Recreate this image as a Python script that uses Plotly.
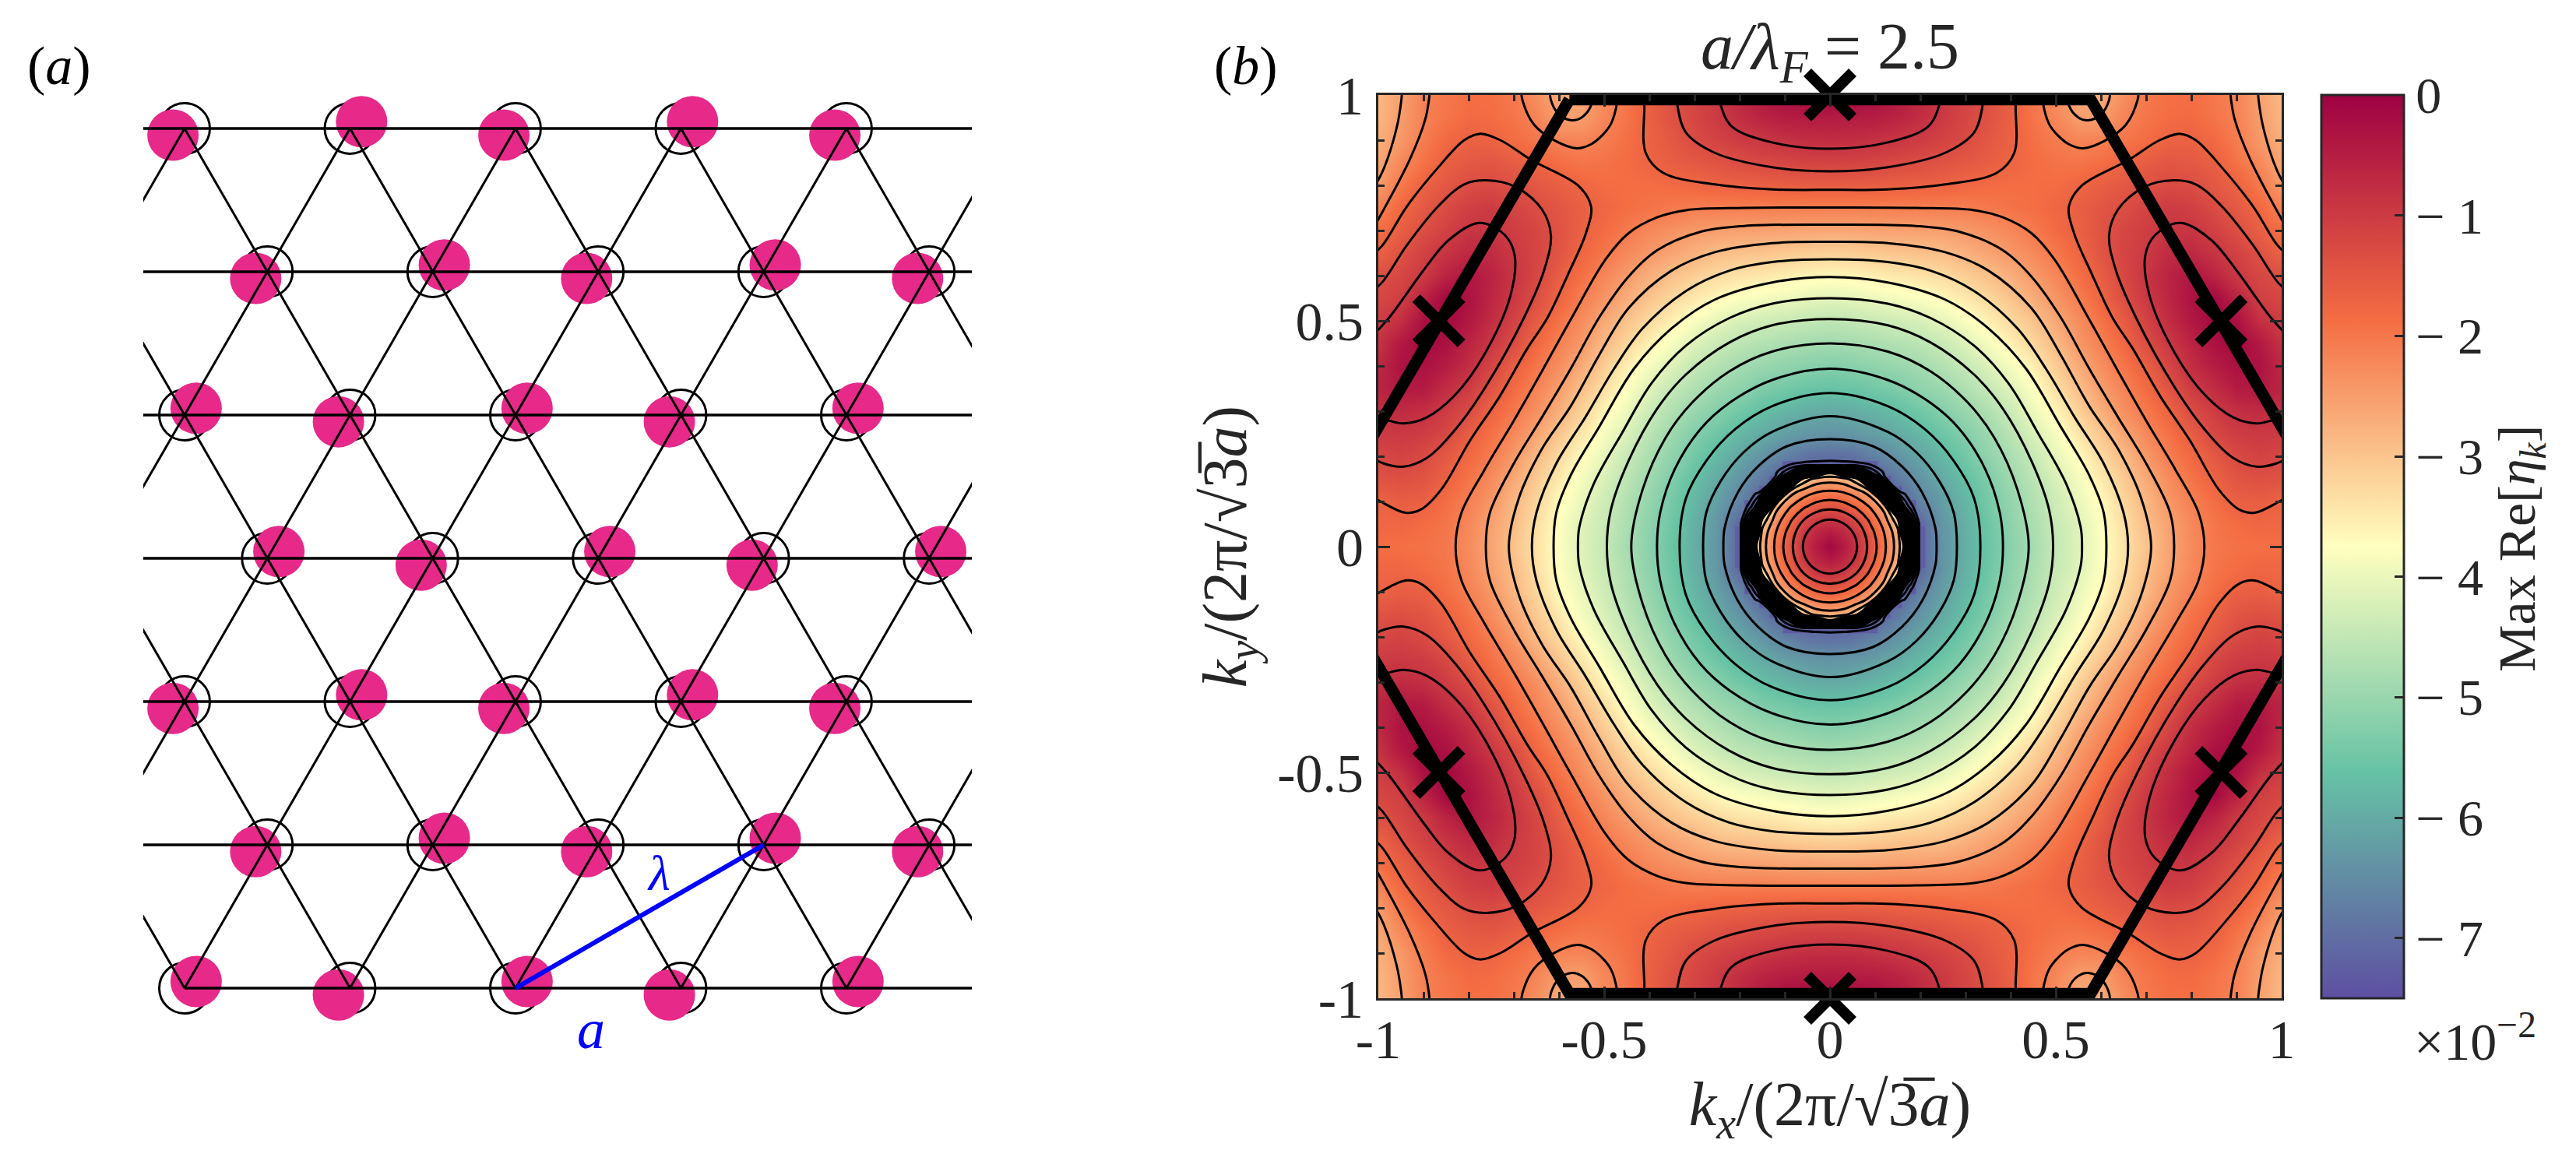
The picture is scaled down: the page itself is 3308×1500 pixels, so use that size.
import numpy as np
import plotly.graph_objects as go

W, H = 3308, 1500
INK = '#262626'
SERIF = 'Liberation Serif'

# panel (a): lattice rows, sites in units of a, dot shift direction per site
row_index = [0, 1, 2, 3, 4, 5, 6]
row_offset = [0, 0.5, 0, 0.5, 0, 0.5, 0]
row_start = [-1, -1, -1, -1, -1, -1, 0]
site_columns = [0, 1, 2, 3, 4]
dot_shift = [
    [-1, 1, -1, 1, -1],
    [-1, 1, -1, 1, -1],
    [1, -1, 1, -1, 1],
    [1, -1, 1, -1, 1],
    [-1, 1, -1, 1, -1],
    [-1, 1, -1, 1, -1],
    [1, -1, 1, -1, 1],
]
diagonal_starts = [-3, -2, -1, 0, 1, 2, 3, 4]
lambda_x = [2, 3.5]
lambda_row = [6, 5]

# panel (b): one quadrant of Max Re[eta_k] (x100)
k_nodes = [0, .05, .1, .15, .2, .25, .3, .35, .4, .45, .5, .55, .6, .65, .7, .75, .8, .85, .9, .95, 1]
quadrant_z = [
    [-7.3, -7.3, -7.3, -7.3, -7.1, -6.35, -5.95, -5.57, -5.18, -4.83, -4.46, -4.15, -3.79, -3.38, -2.99, -2.59, -2.27, -2.0, -1.93, -1.9, -1.88],
    [-7.3, -7.3, -7.3, -7.3, -7.1, -6.33, -5.92, -5.52, -5.14, -4.77, -4.42, -4.14, -3.76, -3.33, -2.9, -2.55, -2.22, -1.98, -1.85, -1.75, -1.77],
    [-7.3, -7.3, -7.3, -7.3, -6.65, -6.2, -5.82, -5.43, -5.06, -4.7, -4.35, -4.0, -3.68, -3.22, -2.83, -2.41, -2.12, -1.87, -1.64, -1.6, -1.7],
    [-7.3, -7.3, -7.3, -6.8, -6.36, -6.02, -5.67, -5.32, -4.93, -4.58, -4.22, -3.88, -3.48, -3.07, -2.64, -2.27, -1.96, -1.68, -1.45, -1.36, -1.42],
    [-7.0, -6.95, -6.7, -6.38, -6.09, -5.79, -5.47, -5.12, -4.77, -4.43, -4.03, -3.7, -3.27, -2.87, -2.43, -2.08, -1.8, -1.52, -1.26, -1.14, -1.22],
    [-6.4, -6.33, -6.2, -6.02, -5.79, -5.53, -5.28, -4.95, -4.6, -4.2, -3.85, -3.43, -3.02, -2.59, -2.22, -1.92, -1.6, -1.22, -1.03, -.97, -1.0],
    [-6.02, -5.97, -5.85, -5.68, -5.48, -5.25, -5.0, -4.72, -4.37, -3.97, -3.62, -3.17, -2.72, -2.32, -2.02, -1.72, -1.3, -1.03, -.8, -.72, -.8],
    [-5.62, -5.58, -5.45, -5.35, -5.12, -4.97, -4.72, -4.47, -4.13, -3.77, -3.34, -2.92, -2.5, -2.17, -1.83, -1.43, -1.02, -.76, -.45, -.42, -.62],
    [-5.26, -5.2, -5.1, -5.0, -4.88, -4.67, -4.46, -4.16, -3.87, -3.54, -3.1, -2.67, -2.3, -1.97, -1.65, -1.17, -.78, -.48, -.28, -.3, -.68],
    [-4.9, -4.85, -4.77, -4.68, -4.57, -4.4, -4.16, -3.87, -3.56, -3.22, -2.86, -2.43, -2.12, -1.79, -1.3, -.95, -.6, -.28, -.13, -.4, -.86],
    [-4.53, -4.48, -4.4, -4.32, -4.23, -4.05, -3.82, -3.56, -3.27, -2.98, -2.63, -2.28, -1.94, -1.57, -1.13, -.75, -.4, -.12, -.25, -.8, -1.05],
    [-4.1, -4.05, -3.97, -3.89, -3.8, -3.66, -3.46, -3.24, -2.98, -2.69, -2.38, -2.08, -1.74, -1.34, -.97, -.65, -.3, -.12, -.6, -1.07, -1.22],
    [-3.67, -3.62, -3.53, -3.45, -3.38, -3.28, -3.12, -2.95, -2.72, -2.46, -2.2, -1.9, -1.6, -1.22, -.9, -.6, -.36, -.6, -.97, -1.2, -1.36],
    [-3.16, -3.12, -3.07, -3.0, -2.96, -2.91, -2.75, -2.58, -2.42, -2.23, -2.0, -1.75, -1.45, -1.17, -.98, -.72, -.68, -.88, -1.12, -1.38, -1.68],
    [-2.63, -2.6, -2.58, -2.55, -2.54, -2.51, -2.44, -2.34, -2.22, -2.04, -1.83, -1.66, -1.42, -1.2, -1.05, -.92, -.9, -1.1, -1.33, -1.62, -1.88],
    [-2.11, -2.11, -2.11, -2.1, -2.1, -2.1, -2.09, -2.03, -1.95, -1.88, -1.76, -1.62, -1.47, -1.32, -1.15, -1.0, -1.08, -1.28, -1.52, -1.78, -2.15],
    [-1.6, -1.6, -1.62, -1.65, -1.67, -1.7, -1.77, -1.83, -1.87, -1.87, -1.85, -1.75, -1.62, -1.5, -1.38, -1.27, -1.3, -1.5, -1.68, -2.02, -2.45],
    [-1.15, -1.16, -1.2, -1.25, -1.33, -1.42, -1.52, -1.6, -1.72, -1.85, -1.94, -1.97, -1.88, -1.72, -1.57, -1.47, -1.52, -1.63, -1.93, -2.22, -2.6],
    [-.76, -.78, -.84, -.93, -1.02, -1.15, -1.28, -1.5, -1.68, -1.9, -2.07, -2.18, -2.14, -2.0, -1.85, -1.7, -1.67, -1.8, -2.07, -2.42, -2.72],
    [-.45, -.46, -.5, -.6, -.78, -.98, -1.2, -1.4, -1.65, -1.97, -2.2, -2.5, -2.5, -2.17, -1.98, -1.85, -1.82, -1.97, -2.13, -2.48, -2.82],
    [-.1, -.12, -.2, -.4, -.65, -.95, -1.15, -1.35, -1.65, -2.0, -2.3, -2.65, -2.65, -2.3, -2.02, -1.9, -1.88, -2.0, -2.15, -2.52, -2.85],
]

# the steep dip round k = 0, on its own finer grid
core_nodes = [0, .03, .06, .09, .12, .15, .165, .18, .2]
core_z = [
    [-.1, -.45, -.9, -1.44, -2.02, -2.68, -3.4, -5.2, -7.27],
    [-.45, -.65, -1.0, -1.54, -2.1, -2.75, -4.1, -5.6, -7.28],
    [-.9, -1.0, -1.33, -1.8, -2.31, -3.2, -5.5, -7.0, -7.4],
    [-1.44, -1.54, -1.8, -2.16, -2.68, -5.5, -7.1, -7.28, -7.4],
    [-2.02, -2.1, -2.31, -2.68, -4.5, -7.28, -7.32, -7.4, -7.4],
    [-2.68, -2.75, -3.2, -5.5, -7.28, -7.4, -7.4, -7.4, -7.4],
    [-3.4, -4.1, -5.5, -7.1, -7.32, -7.4, -7.4, -7.4, -7.4],
    [-7.2, -7.22, -7.25, -7.29, -7.4, -7.4, -7.4, -7.4, -7.4],
    [-7.4, -7.4, -7.4, -7.4, -7.4, -7.4, -7.4, -7.4, -7.4],
]

# isolines round the centre, one quadrant each, (kx, ky) from the ky axis to the kx axis
iso_65 = [(0, .238), (.096, .222), (.16, .177), (.204, .12), (.233, .043), (.236, 0)]
iso_61 = [(0, .289), (.128, .254), (.191, .209), (.242, .145), (.274, .075), (.281, 0)]
iso_57 = [(0, .34), (.128, .311), (.21, .26), (.274, .19), (.319, .107), (.333, 0)]
iso_53 = [(0, .394), (.128, .369), (.223, .318), (.287, .26), (.344, .171), (.376, .075), (.383, 0)]
iso_49 = [(0, .45), (.128, .432), (.223, .388), (.306, .318), (.364, .241), (.415, .126), (.44, 0)]
iso_45 = [(0, .504), (.128, .49), (.223, .452), (.319, .381), (.383, .305), (.446, .19), (.485, .082), (.494, 0)]
iso_41 = [(0, .55), (.128, .538), (.223, .506), (.319, .445), (.395, .362), (.459, .254), (.523, .139), (.555, .043), (.558, 0)]
iso_37 = [(0, .597), (.128, .585), (.255, .547), (.351, .483), (.434, .394), (.51, .267), (.574, .158), (.606, .075), (.612, 0)]
iso_33 = [(0, .636), (.128, .63), (.223, .611), (.319, .566), (.415, .483), (.478, .394), (.542, .286), (.606, .184), (.65, .075), (.66, 0)]
iso_29 = [(0, .675), (.128, .672), (.255, .652), (.351, .611), (.446, .528), (.51, .426), (.574, .311), (.638, .216), (.689, .107), (.711, 0)]
iso_25 = [(0, .713), (.19, .71), (.287, .697), (.383, .656), (.446, .598), (.51, .509), (.574, .394), (.638, .286), (.70, .184), (.753, .075), (.762, 0)]
iso_21 = [(0, .751), (.19, .75), (.319, .745), (.383, .729), (.446, .694), (.497, .636), (.574, .503), (.638, .388), (.70, .279), (.765, .17), (.816, .075), (.829, 0)]
centre_isolines = [iso_65, iso_61, iso_57, iso_53, iso_49, iso_45, iso_41, iso_37, iso_33, iso_29, iso_25, iso_21]

# isolines round the lobes and the hexagon corners, open ends run past the frame
top_17 = [(0, .79), (.128, .791), (.255, .802), (.37, .828), (.408, .872), (.411, .975), (.412, 1.02)]
top_13 = [(0, .831), (.128, .84), (.255, .872), (.319, .917), (.338, .978), (.34, 1.02)]
top_09 = [(0, .881), (.128, .895), (.217, .93), (.242, .978), (.247, 1.02)]
side_09 = [(1.02, .46), (.977, .506), (.902, .609), (.845, .678), (.776, .717), (.72, .69), (.698, .644), (.708, .554), (.765, .426), (.829, .337), (.893, .286), (.944, .273), (.976, .279), (1.02, .295)]
side_13 = [(1.02, .56), (.991, .586), (.937, .667), (.868, .753), (.81, .802), (.761, .811), (.695, .796), (.638, .747), (.618, .69), (.632, .615), (.678, .506), (.765, .35), (.829, .26), (.893, .196), (.944, .177), (.988, .184), (1.02, .2)]
side_17 = [(1.02, .64), (.991, .667), (.937, .753), (.868, .839), (.81, .9), (.776, .914), (.73, .9), (.661, .856), (.557, .799), (.529, .753), (.54, .695), (.58, .603), (.626, .506), (.67, .439), (.733, .33), (.797, .235), (.861, .126), (.906, .082), (.94, .075), (.995, .1), (1.02, .115)]
corner_21 = [(.886, 1.02), (.888, .989), (.897, .943), (.931, .856), (.991, .741), (1.02, .69)]
corner_25 = [(.947, 1.02), (.949, .989), (.96, .925), (.991, .83), (1.02, .78)]
k_point_25 = [(.525, 1.02), (.529, .977), (.549, .951), (.572, .944), (.60, .957), (.618, .989), (.62, 1.02)]
k_point_21 = [(.47, 1.02), (.472, .98), (.485, .936), (.504, .911), (.529, .891), (.56, .882), (.609, .899), (.655, .934), (.681, .989), (.684, 1.02)]
open_isolines = [side_09, side_13, side_17, corner_21, corner_25, k_point_25, k_point_21]
top_isolines = [top_17, top_13, top_09]

hexagon_x = [-.577, .577, 1.155, .577, -.577, -1.155, -.577]
hexagon_y = [.99, .99, 0, -.99, -.99, 0, .99]
cross_x = [0, 0, -.866, .866, -.866, .866]
cross_y = [1, -1, .5, .5, -.5, -.5]

colorbar_ticks = [0, -1, -2, -3, -4, -5, -6, -7]
colorbar_labels = ['0', '\u2212 1', '\u2212 2', '\u2212 3', '\u2212 4', '\u2212 5', '\u2212 6', '\u2212 7']
axis_ticks = [-1, -.5, 0, .5, 1]
axis_labels = ['-1', '-0.5', '0', '0.5', '1']
spectral = [[0, '#5E4FA2'], [.25, '#66C2A5'], [.5, '#FFFFBF'], [.75, '#F46D43'], [1, '#9E0142']]


def px(x):
    return x / W


def py(y):
    return 1 - y / H


def mirror(nodes, values):
    nodes = np.array(nodes, dtype=float)
    values = np.array(values, dtype=float)
    values = np.hstack([values[:, :0:-1], values])
    values = np.vstack([values[:0:-1, :], values])
    return np.concatenate([-nodes[:0:-1], nodes]), values


def closed_loop(points):
    xs, ys = map(np.array, zip(*points))
    loop_x = np.concatenate([xs, xs[-2::-1], -xs[1:], -xs[-2::-1]])
    loop_y = np.concatenate([ys, -ys[-2::-1], -ys[1:], ys[-2::-1]])
    return loop_x, loop_y


def add_isoline(x, y):
    fig.add_trace(go.Scatter(x=x, y=y, mode='lines', xaxis='x2', yaxis='y2', showlegend=False,
                             hoverinfo='skip', line=dict(color='black', width=3, shape='spline', smoothing=1)))


fig = go.Figure()

# (a) lattice
sites_x, sites_row, dots_x, dots_row = [], [], [], []
for row, offset, shifts in zip(row_index, row_offset, dot_shift):
    for col, shift in zip(site_columns, shifts):
        sites_x.append(col + offset)
        sites_row.append(row)
        dots_x.append(col + offset + shift * 0.07)
        dots_row.append(row - shift * 0.047)

rows_x, rows_y = [], []
for row, start in zip(row_index, row_start):
    rows_x += [start, 6, None]
    rows_y += [row, row, None]

diag_x, diag_y = [], []
for start in diagonal_starts:
    diag_x += [start, start + 3, None, start, start + 3, None]
    diag_y += [6, 0, None, 0, 6, None]

fig.add_trace(go.Scatter(x=sites_x, y=sites_row, mode='markers', cliponaxis=False, showlegend=False,
                         marker=dict(symbol='circle-open', size=65, color='black', line=dict(color='black', width=3))))
fig.add_trace(go.Scatter(x=dots_x, y=dots_row, mode='markers', cliponaxis=False, showlegend=False,
                         marker=dict(symbol='circle', size=66, color='#E7298A')))
fig.add_trace(go.Scatter(x=diag_x, y=diag_y, mode='lines', showlegend=False,
                         line=dict(color='black', width=3)))
fig.add_trace(go.Scatter(x=rows_x, y=rows_y, mode='lines', showlegend=False,
                         line=dict(color='black', width=3.5)))
fig.add_trace(go.Scatter(x=lambda_x, y=lambda_row, mode='lines', showlegend=False,
                         line=dict(color='#0000FF', width=6)))

# (b) map
k, z = mirror(k_nodes, quadrant_z)
core_k, core = mirror(core_nodes, core_z)
core_fill = np.where(core < -7.3, None, core)

fig.add_trace(go.Heatmap(x=k, y=k, z=z, coloraxis='coloraxis', zsmooth='best', xaxis='x2', yaxis='y2',
                         hoverinfo='skip'))
fig.add_trace(go.Heatmap(x=core_k, y=core_k, z=core_fill, coloraxis='coloraxis', zsmooth='best',
                         xaxis='x2', yaxis='y2', hoverinfo='skip'))
# open rings, then the band where the levels crowd together and read as solid black
fig.add_trace(go.Contour(x=core_k, y=core_k, z=core, xaxis='x2', yaxis='y2', showscale=False, hoverinfo='skip',
                         contours=dict(start=-2.9, end=-.9, size=.4, coloring='none'),
                         line=dict(color='black', width=3, smoothing=1)))
fig.add_trace(go.Contour(x=core_k, y=core_k, z=core, xaxis='x2', yaxis='y2', showscale=False, hoverinfo='skip',
                         contours=dict(start=-7.3, end=-3.3, size=.1, coloring='none'),
                         line=dict(color='black', width=3, smoothing=1)))

for points in centre_isolines:
    add_isoline(*closed_loop(points))
for points in open_isolines:
    xs, ys = map(np.array, zip(*points))
    for sx in (1, -1):
        for sy in (1, -1):
            add_isoline(sx * xs, sy * ys)
for points in top_isolines:
    xs, ys = map(np.array, zip(*points))
    for sy in (1, -1):
        add_isoline(np.concatenate([-xs[:0:-1], xs]), sy * np.concatenate([ys[:0:-1], ys]))

fig.add_trace(go.Scatter(x=hexagon_x, y=hexagon_y, mode='lines', xaxis='x2', yaxis='y2', showlegend=False,
                         line=dict(color='black', width=15)))
fig.add_trace(go.Scatter(x=cross_x, y=cross_y, mode='markers', xaxis='x2', yaxis='y2', showlegend=False,
                         cliponaxis=False,
                         marker=dict(symbol='x-thin', size=58, line=dict(color='black', width=14))))

tick_font = dict(family=SERIF, size=70, color=INK)
frame = dict(range=[-1, 1], tickmode='array', tickvals=axis_ticks, ticktext=axis_labels, tickfont=tick_font,
             ticks='inside', ticklen=15, tickwidth=3, tickcolor=INK, showline=True, linecolor=INK, linewidth=3,
             mirror='ticks', showgrid=False, zeroline=False,
             minor=dict(ticks='inside', tick0=-1, dtick=.1, ticklen=8, tickwidth=3, tickcolor=INK, showgrid=False))

fig.update_layout(
    width=W, height=H, autosize=False,
    margin=dict(l=0, r=0, t=0, b=0, autoexpand=False),
    paper_bgcolor='white', plot_bgcolor='white',
    showlegend=False,
    xaxis=dict(domain=[px(184), px(1248)], range=[-.2494, 4.758], visible=False),
    yaxis=dict(domain=[py(1279), py(155)], range=[6.054, -.054], visible=False),
    xaxis2=dict(domain=[px(1770), px(2930)], anchor='y2', ticklabelstandoff=-10,
                title=dict(text='<i>k<sub>x</sub></i>/(2\u03c0/\u221a3\u0305<i>a</i>)',
                           font=dict(family=SERIF, size=80, color=INK), standoff=10), **frame),
    yaxis2=dict(domain=[py(1282), py(122)], anchor='x2', ticklabelstandoff=2,
                title=dict(text='<i>k<sub>y</sub></i>/(2\u03c0/\u221a3\u0305<i>a</i>)',
                           font=dict(family=SERIF, size=80, color=INK), standoff=14), **frame),
    coloraxis=dict(
        cmin=-7.5, cmax=0, colorscale=spectral,
        colorbar=dict(
            x=px(2981), xanchor='left', y=py(122), yanchor='top', xpad=0, ypad=0,
            lenmode='pixels', len=1160, thicknessmode='pixels', thickness=106,
            outlinecolor=INK, outlinewidth=3, ticks='inside', ticklen=13, tickwidth=3, tickcolor=INK,
            tickmode='array', tickvals=colorbar_ticks, ticktext=colorbar_labels,
            tickfont=dict(family=SERIF, size=66, color=INK),
        ),
    ),
    annotations=[
        dict(x=px(76), y=py(84), text='(<i>a</i>)', font=dict(family=SERIF, size=70, color='black')),
        dict(x=px(1600), y=py(85), text='(<i>b</i>)', font=dict(family=SERIF, size=70, color='black')),
        dict(x=px(2350), y=py(66), text='<i>a/\u03bb<sub>F</sub></i> = 2.5', font=dict(family=SERIF, size=84, color=INK)),
        dict(x=px(846), y=py(1121), text='<i>\u03bb</i>', font=dict(family=SERIF, size=64, color='#0000FF')),
        dict(x=px(759), y=py(1322), text='<i>a</i>', font=dict(family=SERIF, size=72, color='#0000FF')),
        dict(x=px(3178), y=py(1333), text='\u00d710<sup>\u22122</sup>', font=dict(family=SERIF, size=68, color=INK)),
        dict(x=px(3236), y=py(705), text='Max Re[<i>\u03b7<sub>k</sub></i>]', textangle=-90,
             font=dict(family=SERIF, size=68, color=INK)),
    ],
)
for note in fig.layout.annotations:
    note.update(xref='paper', yref='paper', showarrow=False, xanchor='center', yanchor='middle')

fig.write_html("out.html", config={'displayModeBar': False}, post_script="document.body.style.margin='0';")
